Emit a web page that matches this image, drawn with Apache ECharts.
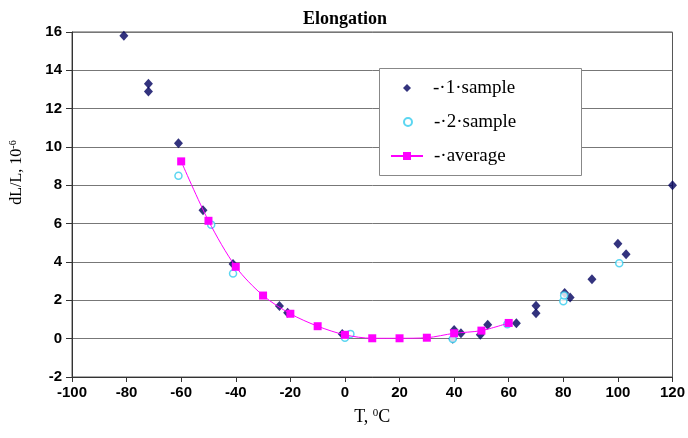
<!DOCTYPE html>
<html>
<head>
<meta charset="utf-8">
<script src="https://cdn.jsdelivr.net/npm/echarts@6/dist/echarts.min.js"></script>
<style>html,body{margin:0;padding:0;background:#fff}#c{width:688px;height:438px}</style>
</head>
<body>
<div id="c"></div>
<script>
// ---- data (T in °C, dL/L in 1e-6) ----
const sample1 = [
  [-81, 15.8], [-72, 13.3], [-72, 12.9], [-61, 10.2], [-52, 6.7], [-41, 3.9],
  [-24, 1.7], [-21, 1.35], [-1, 0.25], [40, 0.45], [39.5, 0.0], [42.5, 0.28],
  [49.6, 0.2], [52.3, 0.72], [62.8, 0.8], [70, 1.72], [70, 1.32],
  [80.5, 2.38], [82.5, 2.15], [90.5, 3.1], [100, 4.95], [103, 4.4], [120, 8.0]
];
const sample2 = [
  [-61, 8.5], [-49, 5.95], [-41, 3.4], [0, 0.05], [2, 0.25], [39.5, -0.02],
  [59.5, 0.75], [80, 1.95], [80.3, 2.25], [100.5, 3.93]
];
const averageT = [-60, -50, -40, -30, -20, -10, 0, 10, 20, 30, 40, 50, 60];
const averageV = [9.25, 6.15, 3.75, 2.25, 1.3, 0.65, 0.2, 0.02, 0.02, 0.05, 0.28, 0.42, 0.82];
const xTicks = {min: -100, max: 120, step: 20};
const yTicks = {min: -2, max: 16, step: 2};
const legendNames = ['-\u00b71\u00b7sample', '-\u00b72\u00b7sample', '-\u00b7average'];
const titleText = 'Elongation';

const chart = echarts.init(document.getElementById('c'), null, {renderer: 'canvas'});
const serif = '"Liberation Serif", "Times New Roman", serif';
const sans = '"Liberation Sans", Arial, sans-serif';
const navy = '#00005e', cyan = '#33ccee', magenta = '#ff00ff';

const legendText = {fontFamily: serif, fontSize: 19, color: '#000', lineHeight: 20};

chart.setOption({
  backgroundColor: '#fff',
  animation: false,
  title: {
    text: titleText, left: 340, top: 5, textAlign: 'center',
    textStyle: {fontFamily: serif, fontWeight: 'bold', fontSize: 18, color: '#000'}
  },
  graphic: [{
    type: 'rect', left: 379, top: 68, z: 50,
    shape: {width: 202, height: 107},
    style: {fill: '#fff', stroke: '#888', lineWidth: 1}
  }],
  legend: [
    {data: [legendNames[0]], left: 403, top: 78, padding: 0, itemWidth: 8, itemHeight: 8, z: 60,
     textStyle: Object.assign({padding: [0, 0, 0, 17]}, legendText)},
    {data: [legendNames[1]], left: 403, top: 112, padding: 0, itemWidth: 8, itemHeight: 8, z: 60,
     textStyle: Object.assign({padding: [0, 0, 0, 17]}, legendText)},
    {data: [legendNames[2]], left: 390, top: 146, padding: 0, itemWidth: 32, itemHeight: 10, z: 60,
     textStyle: Object.assign({padding: [0, 0, 0, 6]}, legendText)}
  ],
  grid: {left: 72, right: 15, top: 32, bottom: 61, show: true, borderColor: '#555', borderWidth: 1, backgroundColor: '#fff'},
  xAxis: {
    type: 'value', min: xTicks.min, max: xTicks.max, interval: xTicks.step,
    name: 'T, {sup|0}C', nameLocation: 'middle', nameGap: 31,
    nameTextStyle: {fontFamily: serif, fontSize: 18, color: '#000',
      rich: {sup: {fontFamily: serif, fontSize: 11, verticalAlign: 'top', padding: [0, 0, 8, 0], color: '#000'}}},
    axisLine: {onZero: false, lineStyle: {color: '#333', width: 1}},
    axisTick: {show: true, length: 5, lineStyle: {color: '#333'}},
    axisLabel: {fontFamily: sans, fontWeight: 'bold', fontSize: 15, color: '#000', margin: 8},
    splitLine: {show: false}
  },
  yAxis: {
    type: 'value', min: yTicks.min, max: yTicks.max, interval: yTicks.step,
    name: 'dL/L, 10{sup|-6}', nameLocation: 'middle', nameGap: 46, nameRotate: 90,
    nameTextStyle: {fontFamily: serif, fontSize: 16, color: '#000', padding: [0, 0, 0, 64],
      rich: {sup: {fontFamily: serif, fontSize: 10, verticalAlign: 'top', padding: [0, 0, 8, 0], color: '#000'}}},
    axisLine: {onZero: false, lineStyle: {color: '#333', width: 1}},
    axisTick: {show: true, length: 6, lineStyle: {color: '#333'}},
    axisLabel: {fontFamily: sans, fontWeight: 'bold', fontSize: 15, color: '#000', margin: 10},
    splitLine: {show: true, lineStyle: {color: '#777', width: 1}}
  },
  series: [
    {name: legendNames[0], type: 'scatter', data: sample1, symbol: 'diamond', symbolSize: [9, 10],
     itemStyle: {color: navy}, z: 3},
    {name: legendNames[1], type: 'scatter', data: sample2, symbol: 'circle', symbolSize: 7,
     itemStyle: {color: '#fff', borderColor: cyan, borderWidth: 1.5}, z: 4},
    {name: legendNames[2], type: 'line', data: averageT.map((t, i) => [t, averageV[i]]),
     smooth: 0.3, symbol: 'rect', symbolSize: 8, showAllSymbol: true,
     lineStyle: {color: magenta, width: 1}, itemStyle: {color: magenta}, z: 5}
  ]
});
</script>
</body>
</html>
